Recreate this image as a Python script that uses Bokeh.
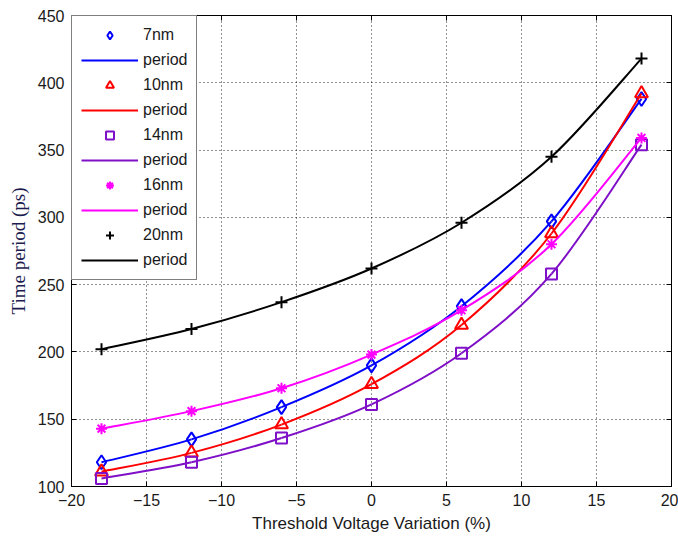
from bokeh.plotting import figure
from bokeh.models import (Range1d, FixedTicker, LinearAxis, Legend, LegendItem,
                          ColumnDataSource, CustomLabelingPolicy)
from bokeh.embed import file_html
from bokeh.resources import INLINE

# Threshold voltage variation (%) and period (ps) per technology node
x_var = [-18, -12, -6, 0, 6, 12, 18]
t_7nm = [118, 135, 159, 190, 234, 297, 388]
t_10nm = [111, 125, 146, 176, 220, 288, 392]
t_14nm = [106, 118, 136, 161, 199, 258, 354]
t_16nm = [143, 156, 173, 198, 231, 280, 359]
t_20nm = [202, 217, 237, 262, 296, 345, 418]

x_ticks = [-20, -15, -10, -5, 0, 5, 10, 15, 20]
y_ticks = [100, 150, 200, 250, 300, 350, 400, 450]

series = [
    ("7nm", t_7nm, "#0000ff", "diamond", 14),
    ("10nm", t_10nm, "#ff0000", "triangle", 13),
    ("14nm", t_14nm, "#7f10c8", "square", 11),
    ("16nm", t_16nm, "#ff00ff", "asterisk", 11),
    ("20nm", t_20nm, "#000000", "cross", 12),
]

TICK_FONT = "Liberation Sans"

p = figure(width=678, height=538, output_backend="svg", toolbar_location=None,
           x_range=Range1d(-20, 20), y_range=Range1d(100, 450),
           min_border_left=71, min_border_right=7, min_border_top=15,
           min_border_bottom=52)
p.background_fill_color = "white"
p.border_fill_color = "white"
p.outline_line_color = "black"
p.outline_line_width = 1

# mirrored axes carry only inward ticks; this policy keeps none of their labels
no_labels = CustomLabelingPolicy(code="return new Set()")


def style_axis(ax, ticks, show_labels=True):
    ax.ticker = FixedTicker(ticks=ticks)
    ax.axis_line_color = "black"
    ax.major_tick_line_color = "black"
    ax.major_tick_in = 5
    ax.major_tick_out = 0
    ax.minor_tick_line_color = None
    ax.major_label_text_font = TICK_FONT
    ax.major_label_text_color = "#1a1a1a"
    if show_labels:
        ax.major_label_text_font_size = "16px"
    else:
        ax.major_label_policy = no_labels
        ax.major_label_text_font_size = "1px"
        ax.major_label_standoff = 0


style_axis(p.xaxis[0], x_ticks)
style_axis(p.yaxis[0], y_ticks)
p.xaxis[0].major_label_standoff = 7
p.yaxis[0].major_label_standoff = 7
p.xaxis[0].axis_label = "Threshold Voltage Variation (%)"
p.xaxis[0].axis_label_text_font = TICK_FONT
p.xaxis[0].axis_label_text_font_style = "normal"
p.xaxis[0].axis_label_text_font_size = "17px"
p.xaxis[0].axis_label_text_color = "#1a1a1a"
p.xaxis[0].axis_label_standoff = 5
p.yaxis[0].axis_label = "Time period (ps)"
p.yaxis[0].axis_label_text_font = "Liberation Serif"
p.yaxis[0].axis_label_text_font_style = "normal"
p.yaxis[0].axis_label_text_font_size = "19px"
p.yaxis[0].axis_label_text_color = "#1c1c50"
p.yaxis[0].axis_label_standoff = 6

top_ax = LinearAxis()
style_axis(top_ax, x_ticks, show_labels=False)
p.add_layout(top_ax, "above")
right_ax = LinearAxis()
style_axis(right_ax, y_ticks, show_labels=False)
p.add_layout(right_ax, "right")

for g in (p.xgrid[0], p.ygrid[0]):
    g.grid_line_color = "black"
    g.grid_line_dash = "1 3"
    g.grid_line_alpha = 0.85
    g.grid_line_width = 1
p.xgrid[0].ticker = FixedTicker(ticks=x_ticks)
p.ygrid[0].ticker = FixedTicker(ticks=y_ticks)


def smooth_segments(xs, ys):
    """Catmull-Rom control points so each curve passes through its data."""
    n = len(xs)
    px = [xs[0]] + list(xs) + [xs[-1]]
    py = [ys[0]] + list(ys) + [ys[-1]]
    d = dict(x0=[], y0=[], x1=[], y1=[], cx0=[], cy0=[], cx1=[], cy1=[])
    for i in range(n - 1):
        a, b, c, e = i, i + 1, i + 2, i + 3
        d["x0"].append(px[b]); d["y0"].append(py[b])
        d["x1"].append(px[c]); d["y1"].append(py[c])
        d["cx0"].append(px[b] + (px[c] - px[a]) / 6)
        d["cy0"].append(py[b] + (py[c] - py[a]) / 6)
        d["cx1"].append(px[c] - (px[e] - px[b]) / 6)
        d["cy1"].append(py[c] - (py[e] - py[b]) / 6)
    return ColumnDataSource(d)


items = []
for label, vals, color, marker, size in series:
    p.bezier(x0="x0", y0="y0", x1="x1", y1="y1", cx0="cx0", cy0="cy0",
             cx1="cx1", cy1="cy1", source=smooth_segments(x_var, vals),
             line_color=color, line_width=2)
    pts = p.scatter(x_var, vals, marker=marker, size=size, line_color=color,
                    fill_color=None, line_width=2)
    # single-point line: draws nothing in the plot, gives the legend its key
    key = p.line(x_var[:1], vals[:1], line_color=color, line_width=2)
    items.append(LegendItem(label=label, renderers=[pts]))
    items.append(LegendItem(label="period", renderers=[key]))

legend = Legend(items=items, location="top_left", margin=0, padding=9,
                spacing=5, glyph_height=20, glyph_width=57, label_height=20,
                label_standoff=5, label_text_font=TICK_FONT,
                label_text_font_size="16px", label_text_color="#1a1a1a",
                border_line_color="black", border_line_width=1,
                background_fill_color="white", background_fill_alpha=1.0)
p.add_layout(legend)

open("out.html", "w").write(file_html(p, INLINE))
